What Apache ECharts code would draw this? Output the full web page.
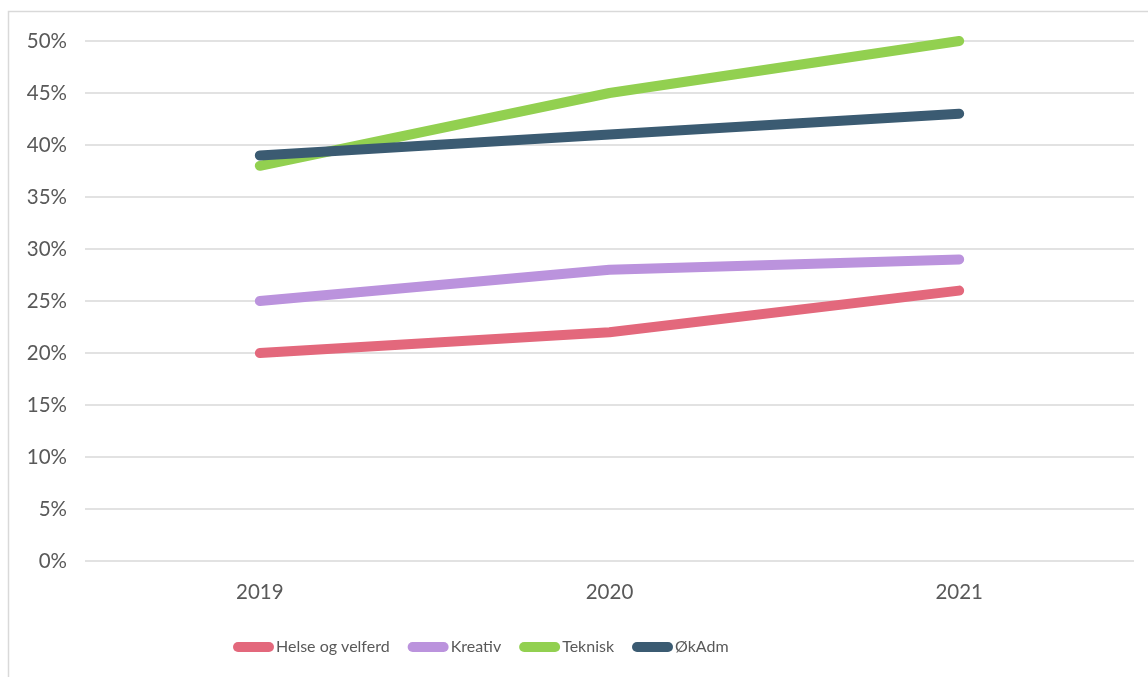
<!DOCTYPE html>
<html>
<head>
<meta charset="utf-8">
<script src="https://cdn.jsdelivr.net/npm/echarts@6/dist/echarts.min.js"></script>
<style>
html,body{margin:0;padding:0;background:#fff;}
#chart{width:1148px;height:677px;}
</style>
</head>
<body>
<div id="chart"></div>
<script>
const categories = ['2019', '2020', '2021'];
const helse = [20, 22, 26];
const kreativ = [25, 28, 29];
const teknisk = [38, 45, 50];
const okadm = [39, 41, 43];
const seriesNames = ['Helse og velferd', 'Kreativ', 'Teknisk', 'ØkAdm'];
const seriesColors = ['#E3687C', '#BB93DD', '#92D050', '#3B5B72'];
const seriesData = [helse, kreativ, teknisk, okadm];

const chart = echarts.init(document.getElementById('chart'));
const pill = 'path://M5,0 H36 A5,5 0 0 1 36,10 H5 A5,5 0 0 1 5,0 Z';

chart.setOption({
  animation: false,
  backgroundColor: '#fff',
  graphic: [{
    type: 'rect',
    shape: {x: 8.5, y: 11.5, width: 1200, height: 700},
    style: {fill: 'none', stroke: '#D9D9D9', lineWidth: 1.5},
    silent: true
  }],
  grid: {left: 85, right: 14, top: 41, bottom: 116},
  legend: {
    left: 233,
    top: 639,
    padding: 0,
    itemWidth: 41,
    itemHeight: 10,
    itemGap: 18,
    icon: pill,
    textStyle: {color: '#595959', fontSize: 16, fontFamily: 'Lato, sans-serif', padding: [0,0,0,-3]},
    data: seriesNames
  },
  xAxis: {
    type: 'category',
    data: categories,
    boundaryGap: true,
    axisLine: {show: false},
    axisTick: {show: false},
    axisLabel: {color: '#595959', fontSize: 20.5, fontFamily: 'Lato, sans-serif', margin: 21}
  },
  yAxis: {
    type: 'value',
    min: 0,
    max: 50,
    interval: 5,
    axisLine: {show: false},
    axisTick: {show: false},
    axisLabel: {color: '#595959', fontSize: 20.5, fontFamily: 'Lato, sans-serif', margin: 18, formatter: '{value}%'},
    splitLine: {lineStyle: {color: '#D9D9D9', width: 1.5}}
  },
  series: seriesNames.map((name, i) => ({
    name: name,
    type: 'line',
    data: seriesData[i],
    symbol: 'none',
    color: seriesColors[i],
    lineStyle: {width: 10, color: seriesColors[i], cap: 'round', join: 'round'}
  }))
});
</script>
</body>
</html>
